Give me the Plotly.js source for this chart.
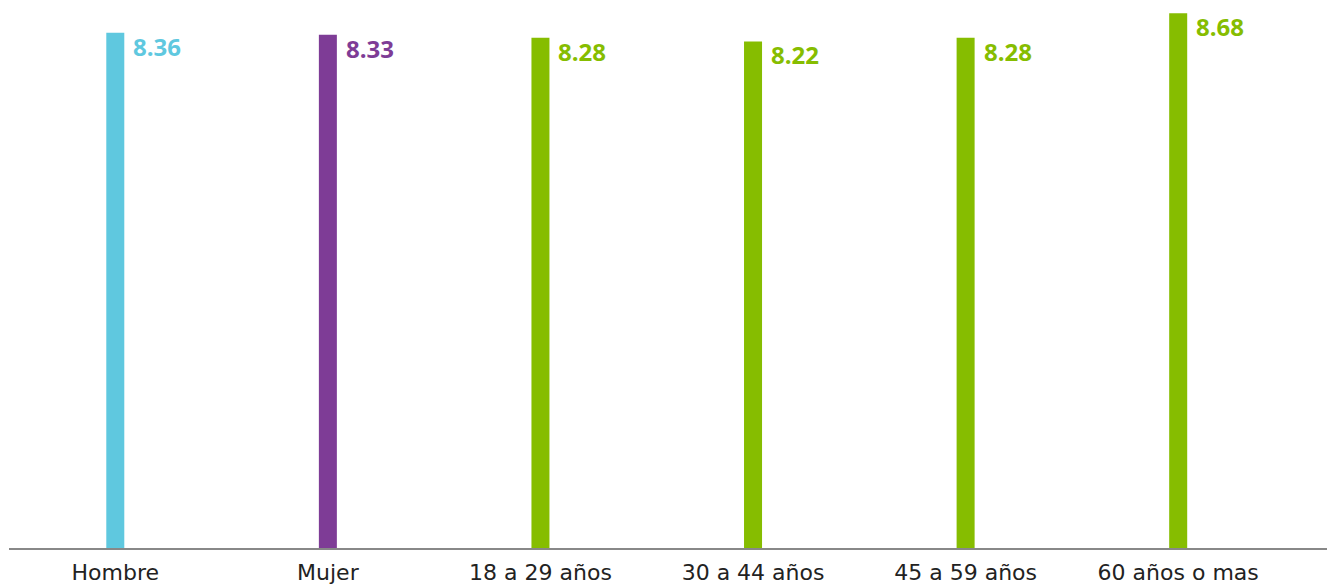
<!DOCTYPE html>
<html>
<head>
<meta charset="utf-8">
<script src="https://cdn.plot.ly/plotly-3.0.1.min.js"></script>
<style>html,body{margin:0;padding:0;background:#fff;}#chart{width:1327px;height:586px;}</style>
</head>
<body>
<div id="chart"></div>
<script>
const categories = ["Hombre", "Mujer", "18 a 29 años", "30 a 44 años", "45 a 59 años", "60 años o mas"];
const values = [8.36, 8.33, 8.28, 8.22, 8.28, 8.68];
const labels = ["8.36", "8.33", "8.28", "8.22", "8.28", "8.68"];
const colors = ["#5FC8DF", "#7E3C96", "#86BD00", "#86BD00", "#86BD00", "#86BD00"];

const xIdx = categories.map((c, i) => i);

const trace = {
  type: "bar",
  x: xIdx,
  y: values,
  width: 0.0847,
  marker: {color: colors},
  hoverinfo: "none"
};

const annotations = values.map((v, i) => ({
  x: i, y: v, xref: "x", yref: "y",
  text: "<b>" + labels[i] + "</b>",
  showarrow: false,
  xanchor: "left", yanchor: "top",
  xshift: 16, yshift: 5,
  font: {family: "Open Sans", size: 24, color: colors[i]}
}));

const layout = {
  width: 1327, height: 586,
  margin: {l: 9, r: 0, t: 0, b: 38},
  paper_bgcolor: "#fff", plot_bgcolor: "#fff",
  showlegend: false,
  xaxis: {
    range: [-0.5, 5.7],
    tickmode: "array", tickvals: xIdx, ticktext: categories,
    showgrid: false, zeroline: false,
    showline: true, linecolor: "#888", linewidth: 1.5,
    ticks: "",
    ticklabelstandoff: 4,
    tickfont: {family: "DejaVu Sans", size: 22, color: "#222"}
  },
  yaxis: {
    range: [0, 8.893],
    visible: false, showgrid: false, zeroline: false
  },
  annotations: annotations
};

Plotly.newPlot("chart", [trace], layout, {displayModeBar: false, staticPlot: true});
</script>
</body>
</html>
